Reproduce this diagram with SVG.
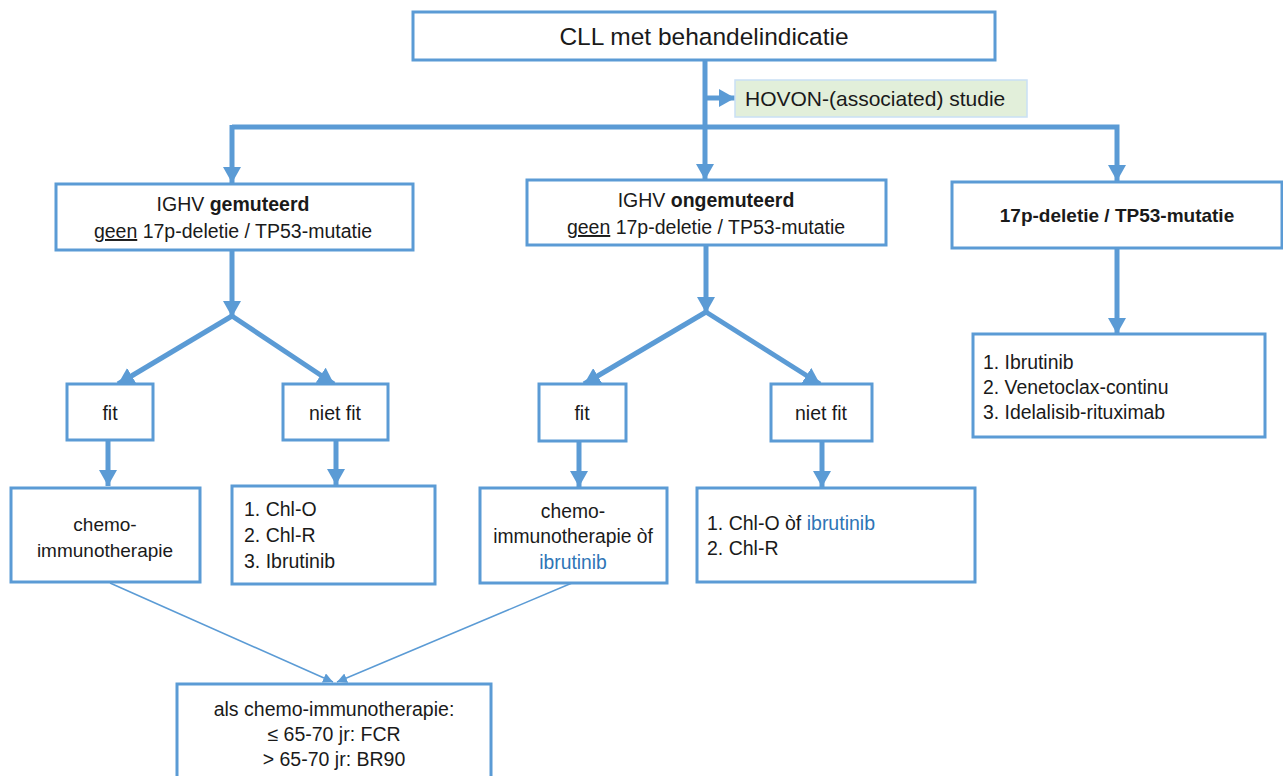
<svg xmlns="http://www.w3.org/2000/svg" width="1283" height="776" viewBox="0 0 1283 776">
<style>
.box{fill:#fff;stroke:#5B9BD5;stroke-width:3}
.hov{fill:#E2EFDA;stroke:#C9E0F5;stroke-width:1.5}
.t{font-family:"Liberation Sans",Arial,sans-serif;fill:#1a1a1a}
.c{text-anchor:middle}
.b{font-weight:bold}
.blue{fill:#2E75B6}
.thick{fill:none;stroke:#5B9BD5;stroke-width:5}
.thin{fill:none;stroke:#5B9BD5;stroke-width:1.5}
</style>
<defs>
<marker id="ah" markerUnits="userSpaceOnUse" viewBox="0 0 16 18" refX="16" refY="9" markerWidth="16" markerHeight="18" orient="auto">
<path d="M0,0 L16,9 L0,18 Z" fill="#5B9BD5"/>
</marker>
<marker id="as" markerUnits="userSpaceOnUse" viewBox="0 0 10 10" refX="10" refY="5" markerWidth="10" markerHeight="10" orient="auto">
<path d="M0,0 L10,5 L0,10 Z" fill="#5B9BD5"/>
</marker>
</defs>
<g id="connectors">
<line class="thick" x1="705" y1="60" x2="705" y2="180" marker-end="url(#ah)"/>
<line class="thick" x1="705" y1="98" x2="735" y2="98" marker-end="url(#ah)"/>
<polyline class="thick" points="232,127 1117,127 1117,181" marker-end="url(#ah)"/>
<line class="thick" x1="232" y1="125" x2="232" y2="183" marker-end="url(#ah)"/>
<line class="thick" x1="232" y1="250" x2="232" y2="317" marker-end="url(#ah)"/>
<line class="thick" x1="232" y1="316" x2="118" y2="384" marker-end="url(#ah)"/>
<line class="thick" x1="232" y1="316" x2="334" y2="384" marker-end="url(#ah)"/>
<line class="thick" x1="108" y1="440" x2="108" y2="486" marker-end="url(#ah)"/>
<line class="thick" x1="336" y1="440" x2="336" y2="485" marker-end="url(#ah)"/>
<line class="thick" x1="706" y1="245" x2="706" y2="313" marker-end="url(#ah)"/>
<line class="thick" x1="706" y1="312" x2="584" y2="384" marker-end="url(#ah)"/>
<line class="thick" x1="706" y1="312" x2="820" y2="384" marker-end="url(#ah)"/>
<line class="thick" x1="579" y1="441" x2="579" y2="487" marker-end="url(#ah)"/>
<line class="thick" x1="822" y1="441" x2="822" y2="487" marker-end="url(#ah)"/>
<line class="thick" x1="1117" y1="248" x2="1117" y2="334" marker-end="url(#ah)"/>
<line class="thin" x1="110" y1="583" x2="333" y2="682" marker-end="url(#as)"/>
<line class="thin" x1="572" y1="583" x2="337" y2="682" marker-end="url(#as)"/>
</g>
<g id="n-top">
<rect class="box" x="413" y="12" width="582" height="48"/>
<text class="t c" x="704" y="45" font-size="24.5">CLL met behandelindicatie</text>
</g>
<g id="n-hovon">
<rect class="hov" x="735" y="80" width="292" height="37"/>
<text class="t" x="745" y="106" font-size="21">HOVON-(associated) studie</text>
</g>
<g id="n-gem">
<rect class="box" x="56" y="184" width="357" height="66"/>
<text class="t c" x="233" y="211" font-size="19.5">IGHV <tspan class="b">gemuteerd</tspan></text>
<text class="t c" x="233" y="238" font-size="19.5"><tspan text-decoration="underline">geen</tspan> 17p-deletie / TP53-mutatie</text>
</g>
<g id="n-ongem">
<rect class="box" x="527" y="180" width="359" height="65"/>
<text class="t c" x="706" y="207" font-size="19.5">IGHV <tspan class="b">ongemuteerd</tspan></text>
<text class="t c" x="706" y="234" font-size="19.5"><tspan text-decoration="underline">geen</tspan> 17p-deletie / TP53-mutatie</text>
</g>
<g id="n-17p">
<rect class="box" x="952" y="182" width="330" height="66"/>
<text class="t c b" x="1117" y="222" font-size="19">17p-deletie / TP53-mutatie</text>
</g>
<g id="n-fit1">
<rect class="box" x="67" y="384" width="86" height="56"/>
<text class="t c" x="110" y="420" font-size="19.5">fit</text>
</g>
<g id="n-nietfit1">
<rect class="box" x="283" y="384" width="105" height="56"/>
<text class="t c" x="335" y="420" font-size="19.5">niet fit</text>
</g>
<g id="n-chemo1">
<rect class="box" x="11" y="488" width="189" height="94"/>
<text class="t c" x="105" y="531" font-size="19">chemo-</text>
<text class="t c" x="105" y="557" font-size="19">immunotherapie</text>
</g>
<g id="n-chl1">
<rect class="box" x="232" y="486" width="203" height="98"/>
<text class="t" x="244" y="516" font-size="19.5">1. Chl-O</text>
<text class="t" x="244" y="542" font-size="19.5">2. Chl-R</text>
<text class="t" x="244" y="568" font-size="19.5">3. Ibrutinib</text>
</g>
<g id="n-fit2">
<rect class="box" x="539" y="384" width="87" height="57"/>
<text class="t c" x="582" y="420" font-size="19.5">fit</text>
</g>
<g id="n-nietfit2">
<rect class="box" x="771" y="384" width="101" height="57"/>
<text class="t c" x="821" y="420" font-size="19.5">niet fit</text>
</g>
<g id="n-chemo2">
<rect class="box" x="480" y="488" width="187" height="95"/>
<text class="t c" x="573" y="518" font-size="19.3">chemo-</text>
<text class="t c" x="573" y="543" font-size="19.3">immunotherapie òf</text>
<text class="t c blue" x="573" y="569" font-size="19.3">ibrutinib</text>
</g>
<g id="n-chl2">
<rect class="box" x="697" y="488" width="278" height="94"/>
<text class="t" x="707" y="530" font-size="19.5">1. Chl-O òf <tspan class="blue">ibrutinib</tspan></text>
<text class="t" x="707" y="555" font-size="19.5">2. Chl-R</text>
</g>
<g id="n-17p-tx">
<rect class="box" x="973" y="334" width="292" height="103"/>
<text class="t" x="983" y="369" font-size="19.4">1. Ibrutinib</text>
<text class="t" x="983" y="394" font-size="19.4">2. Venetoclax-continu</text>
<text class="t" x="983" y="419" font-size="19.4">3. Idelalisib-rituximab</text>
</g>
<g id="n-als">
<rect class="box" x="177" y="684" width="314" height="100"/>
<text class="t c" x="334" y="716" font-size="19.5">als chemo-immunotherapie:</text>
<text class="t c" x="334" y="741" font-size="19.5">≤ 65-70 jr: FCR</text>
<text class="t c" x="334" y="766" font-size="19.5">&gt; 65-70 jr: BR90</text>
</g>
</svg>
